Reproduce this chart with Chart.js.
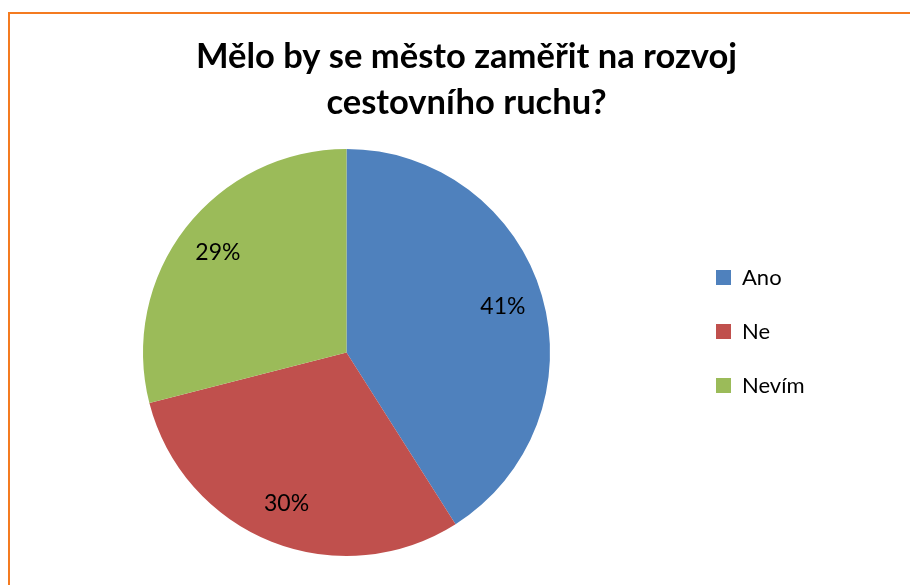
<!DOCTYPE html>
<html lang="cs">
<head>
<meta charset="utf-8">
<title>Cestovní ruch</title>
<script src="https://cdn.jsdelivr.net/npm/chart.js@4.4.1/dist/chart.umd.min.js"></script>
<style>
  html, body { margin: 0; padding: 0; background: #fff; overflow: hidden; }
  body { width: 910px; height: 585px; position: relative; }
  /* orange chart frame, right and bottom edges fall outside the picture */
  .frame {
    position: absolute; left: 8px; top: 12px; width: 1000px; height: 1000px;
    border-left: 2px solid #f47b20; border-top: 2px solid #f47b20;
  }
  #graph { position: absolute; left: 0; top: 0; }
</style>
</head>
<body>
<div class="frame"></div>
<canvas id="graph" width="930" height="585"></canvas>
<script>
// data
const categories = ["Ano", "Ne", "Nevím"];
const shares = [41, 30, 29];
const sliceColors = ["#4f81bd", "#c0504d", "#9bbb59"];
const titleLines = ["Mělo by se město zaměřit na rozvoj", "cestovního ruchu?"];

const LEGEND_WIDTH = 240;
const LEGEND_SHIFT = -21;

// legend takes a fixed width (like the Excel plot area) and sits a bit higher
const legendBox = {
  id: "legendBox",
  beforeLayout(chart) {
    const legend = chart.legend;
    if (!legend || legend._fixedFit) return;
    const fit = legend.fit;
    legend.fit = function () {
      fit.call(this);
      this.width = LEGEND_WIDTH;
    };
    legend._fixedFit = true;
  },
  afterLayout(chart) {
    chart.legend.top += LEGEND_SHIFT;
    chart.legend.bottom += LEGEND_SHIFT;
  },
};

// percent labels inside the slices
const sliceLabels = {
  id: "sliceLabels",
  afterDatasetsDraw(chart) {
    const ctx = chart.ctx;
    const meta = chart.getDatasetMeta(0);
    ctx.save();
    ctx.font = "23px Lato";
    ctx.fillStyle = "#000";
    ctx.textAlign = "center";
    ctx.textBaseline = "middle";
    meta.data.forEach((arc, i) => {
      const { x, y, startAngle, endAngle, outerRadius } = arc.getProps(
        ["x", "y", "startAngle", "endAngle", "outerRadius"],
        true
      );
      const mid = (startAngle + endAngle) / 2;
      const r = outerRadius * 0.8;
      ctx.fillText(shares[i] + "%", x + Math.cos(mid) * r, y + Math.sin(mid) * r);
    });
    ctx.restore();
  },
};

const graph = document.getElementById("graph");

new Chart(graph, {
  type: "pie",
  data: {
    labels: categories,
    datasets: [
      {
        data: shares,
        backgroundColor: sliceColors,
        borderWidth: 0,
        hoverOffset: 0,
      },
    ],
  },
  options: {
    responsive: false,
    animation: false,
    events: [],
    layout: {
      padding: { left: 9, right: 6, top: 0, bottom: 29 },
    },
    plugins: {
      title: {
        display: true,
        text: titleLines,
        color: "#000",
        font: { family: "Lato", size: 34.5, weight: "bold", lineHeight: 1.333 },
        padding: { top: 33.5, bottom: 23.5 },
      },
      legend: {
        position: "right",
        align: "center",
        fullSize: false,
        labels: {
          color: "#000",
          font: { family: "Lato", size: 22 },
          boxWidth: 15,
          boxHeight: 15,
          padding: 32,
        },
      },
      tooltip: { enabled: false },
    },
  },
  plugins: [legendBox, sliceLabels],
});
</script>
</body>
</html>
